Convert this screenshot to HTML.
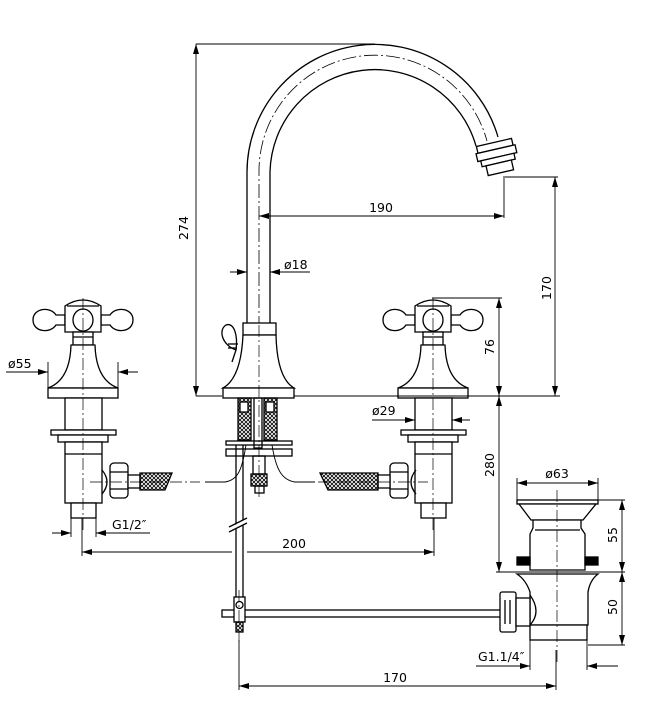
<!DOCTYPE html>
<html><head><meta charset="utf-8"><style>
html,body{margin:0;padding:0;background:#fff}
svg{display:block}
text{font-family:"DejaVu Sans","Liberation Sans",sans-serif;font-size:12.5px;fill:#000}
</style></head><body>
<svg width="660" height="714" viewBox="0 0 660 714" xmlns="http://www.w3.org/2000/svg">
<defs>
<marker id="a" viewBox="0 0 10 6" refX="10" refY="3" markerWidth="10" markerHeight="6" orient="auto-start-reverse" markerUnits="userSpaceOnUse"><path d="M0,0 L10,3 L0,6 Z" fill="#000"/></marker>
<pattern id="h" width="4" height="4" patternUnits="userSpaceOnUse"><path d="M0,0L4,4M4,0L0,4" stroke="#000" stroke-width="0.8"/></pattern>
<g id="valve" fill="#fff" stroke="#000" stroke-width="1.3">
  <path d="M56,315 C50,306 33,308 33,320 C33,332 50,334 56,325 L65,325 L65,315 Z"/>
  <path d="M110,315 C116,306 133,308 133,320 C133,332 116,334 110,325 L101,325 L101,315 Z"/>
  <path d="M65,332 L65,306 Q83,294 101,306 L101,332 Z"/>
  <line x1="67" y1="306" x2="99" y2="306"/>
  <ellipse cx="83" cy="320" rx="10" ry="11"/>
  <rect x="73" y="332" width="20" height="13"/>
  <line x1="73" y1="337" x2="93" y2="337"/>
  <path d="M71,345 L95,345 Q96,380 118,388 L48,388 Q70,380 71,345 Z"/>
  <rect x="48" y="388" width="70" height="10"/>
  <rect x="65" y="398" width="37" height="32"/>
  <rect x="51" y="430" width="65" height="5"/>
  <rect x="58" y="435" width="50" height="7"/>
  <rect x="65" y="442" width="37" height="61"/>
  <line x1="65" y1="454" x2="102" y2="454"/>
  <rect x="71" y="503" width="25" height="15"/>
</g>
</defs>
<g fill="none" stroke="#000" stroke-width="1.3">
<path d="M247,325 L247,172 A128,128 0 0 1 498,137" fill="none"/>
<path d="M270,325 L270,172 A105,105 0 0 1 476,146" fill="none"/>
<path d="M259,330 L259,172 A116,116 0 0 1 487,141" stroke-width="0.8" stroke-dasharray="14,3,2,3"/>
<g transform="rotate(-13 498 160)">
<rect x="480" y="142" width="36" height="7" fill="#fff"/>
<rect x="478" y="149" width="40" height="8" fill="#fff"/>
<rect x="481" y="157" width="34" height="6" fill="#fff"/>
<rect x="485" y="163" width="26" height="10" fill="#fff"/>
</g>
<rect x="243" y="323" width="33" height="12" fill="#fff"/>
<path d="M243,335 L276,335 Q277,378 294,388 L223,388 Q241,378 243,335 Z" fill="#fff"/>
<rect x="223" y="388" width="71" height="10" fill="#fff"/>
<path d="M236,350 C222,345 218,330 226,325 C234,322 238,335 236,350 L232,362 Z" fill="#fff"/>
<line x1="228" y1="344" x2="238" y2="344"/><line x1="228" y1="348" x2="237" y2="348"/>
<rect x="238" y="398" width="13" height="42" fill="url(#h)"/>
<rect x="264" y="398" width="13" height="42" fill="url(#h)"/>
<rect x="240" y="402" width="8" height="10" fill="#fff"/><rect x="266" y="402" width="8" height="10" fill="#fff"/>
<rect x="254" y="398" width="8" height="50"/>
<rect x="226" y="441" width="66" height="4"/>
<rect x="226" y="449" width="66" height="7"/>
<rect x="253" y="456" width="12" height="18"/>
<rect x="251" y="474" width="16" height="12" fill="url(#h)"/>
<rect x="255" y="486" width="9" height="7"/>
<path d="M246,445 C242,470 238,480 225,482 L205,482" stroke-width="0.9"/>
<path d="M272,445 C276,470 282,480 295,482 L315,482" stroke-width="0.9"/>
<line x1="236" y1="445" x2="236" y2="600"/><line x1="243" y1="445" x2="243" y2="600"/>
<line x1="231" y1="530" x2="247" y2="520" stroke="#fff" stroke-width="4"/>
<line x1="229" y1="527" x2="247" y2="518"/><line x1="229" y1="532" x2="247" y2="523"/>
<rect x="222" y="610" width="280" height="7" fill="#fff"/>
<rect x="234" y="597" width="11" height="25" fill="#fff"/>
<circle cx="239.5" cy="605" r="3.5"/>
<rect x="236" y="622" width="7" height="10" fill="url(#h)"/>
</g>
<use href="#valve"/>
<use href="#valve" transform="translate(350,0)"/>
<g fill="none" stroke="#000" stroke-width="1.3">
<path d="M102,470 Q112,482 102,494"/>
<rect x="110" y="463" width="18" height="35" rx="4" fill="#fff"/>
<line x1="110" y1="472" x2="128" y2="472"/><line x1="110" y1="489" x2="128" y2="489"/>
<rect x="128" y="475" width="12" height="13" fill="#fff"/>
<path d="M140,473 L172,473 L165,490 L140,490 Z" fill="url(#h)"/>
<path d="M416,470 Q406,482 416,494"/>
<rect x="390" y="463" width="18" height="35" rx="4" fill="#fff"/>
<line x1="390" y1="472" x2="408" y2="472"/><line x1="390" y1="489" x2="408" y2="489"/>
<rect x="378" y="475" width="12" height="13" fill="#fff"/>
<path d="M320,473 L378,473 L378,490 L328,490 Z" fill="url(#h)"/>
<rect x="517" y="500" width="81" height="4" fill="#fff"/>
<path d="M519,504 L596,504 L583,520 L531,520 Z" fill="#fff"/>
<path d="M533,520 L581,520 L581,528 L585,534 L585,570 L530,570 L530,534 L533,528 Z" fill="#fff"/>
<line x1="535" y1="530" x2="580" y2="530"/>
<rect x="517" y="557" width="13" height="8" fill="#000"/><rect x="585" y="557" width="13" height="8" fill="#000"/>
<path d="M517,574 L598,574 Q590,580 588,592 L588,625 L530,625 L530,592 Q526,580 517,574 Z" fill="#fff"/>
<path d="M530,595 Q542,612 530,625"/>
<rect x="530" y="625" width="57" height="15" fill="#fff"/>
<rect x="500" y="592" width="16" height="40" rx="2" fill="#fff"/>
<rect x="516" y="598" width="14" height="28" fill="#fff"/>
<line x1="505" y1="600" x2="505" y2="624"/><line x1="510" y1="600" x2="510" y2="624"/>
</g>
<g stroke="#000" stroke-width="0.7" stroke-dasharray="12,3,2,3" fill="none">
<line x1="83" y1="298" x2="83" y2="530"/>
<line x1="433" y1="298" x2="433" y2="530"/>
<line x1="259" y1="325" x2="259" y2="500"/>
<line x1="557" y1="490" x2="557" y2="665"/>
<line x1="90" y1="482" x2="200" y2="482"/>
<line x1="318" y1="482" x2="428" y2="482"/>
<line x1="239" y1="590" x2="239" y2="645"/>
</g>
<g stroke="#000" stroke-width="0.9" fill="none">
<line x1="196" y1="44" x2="375" y2="44"/>
<line x1="196" y1="396" x2="222" y2="396"/>
<line x1="196" y1="44" x2="196" y2="396" marker-start="url(#a)" marker-end="url(#a)"/>
<line x1="259" y1="216" x2="504" y2="216" marker-start="url(#a)" marker-end="url(#a)"/>
<line x1="504" y1="176" x2="504" y2="218"/>
<line x1="230" y1="272" x2="247" y2="272" marker-end="url(#a)"/>
<line x1="310" y1="272" x2="270" y2="272" marker-end="url(#a)"/>
<line x1="505" y1="177" x2="558" y2="177"/>
<line x1="294" y1="396" x2="560" y2="396"/>
<line x1="555" y1="177" x2="555" y2="396" marker-start="url(#a)" marker-end="url(#a)"/>
<line x1="432" y1="298" x2="502" y2="298"/>
<line x1="499" y1="298" x2="499" y2="396" marker-start="url(#a)" marker-end="url(#a)"/>
<line x1="499" y1="396" x2="499" y2="572" marker-start="url(#a)" marker-end="url(#a)"/>
<line x1="496" y1="572" x2="625" y2="572"/>
<line x1="598" y1="500" x2="625" y2="500"/>
<line x1="622" y1="500" x2="622" y2="572" marker-start="url(#a)" marker-end="url(#a)"/>
<line x1="588" y1="645" x2="625" y2="645"/>
<line x1="622" y1="572" x2="622" y2="645" marker-start="url(#a)" marker-end="url(#a)"/>
<line x1="517" y1="483" x2="598" y2="483" marker-start="url(#a)" marker-end="url(#a)"/>
<line x1="517" y1="478" x2="517" y2="500"/><line x1="598" y1="478" x2="598" y2="500"/>
<line x1="476" y1="666" x2="530" y2="666" marker-end="url(#a)"/>
<line x1="618" y1="666" x2="587" y2="666" marker-end="url(#a)"/>
<line x1="530" y1="640" x2="530" y2="670"/><line x1="587" y1="640" x2="587" y2="670"/>
<line x1="239" y1="640" x2="239" y2="690"/><line x1="556" y1="650" x2="556" y2="690"/>
<line x1="239" y1="686" x2="556" y2="686" marker-start="url(#a)" marker-end="url(#a)"/>
<line x1="82" y1="518" x2="82" y2="556"/><line x1="434" y1="518" x2="434" y2="556"/>
<line x1="82" y1="552" x2="232" y2="552" marker-start="url(#a)"/>
<line x1="247" y1="552" x2="434" y2="552" marker-end="url(#a)"/>
<line x1="52" y1="533" x2="71" y2="533" marker-end="url(#a)"/>
<line x1="150" y1="533" x2="96" y2="533" marker-end="url(#a)"/>
<line x1="71" y1="518" x2="71" y2="537"/><line x1="96" y1="518" x2="96" y2="537"/>
<line x1="6" y1="372" x2="48" y2="372" marker-end="url(#a)"/>
<line x1="138" y1="372" x2="118" y2="372" marker-end="url(#a)"/>
<line x1="48" y1="362" x2="48" y2="388"/><line x1="118" y1="362" x2="118" y2="388"/>
<line x1="372" y1="420" x2="415" y2="420" marker-end="url(#a)"/>
<line x1="470" y1="420" x2="452" y2="420" marker-end="url(#a)"/>
</g>
<text x="188" y="228" transform="rotate(-90 188 228)" text-anchor="middle">274</text>
<text x="381" y="212" text-anchor="middle">190</text>
<text x="284" y="269">ø18</text>
<text x="551" y="288" transform="rotate(-90 551 288)" text-anchor="middle">170</text>
<text x="494" y="347" transform="rotate(-90 494 347)" text-anchor="middle">76</text>
<text x="494" y="465" transform="rotate(-90 494 465)" text-anchor="middle">280</text>
<text x="617" y="535" transform="rotate(-90 617 535)" text-anchor="middle">55</text>
<text x="617" y="607" transform="rotate(-90 617 607)" text-anchor="middle">50</text>
<text x="557" y="478" text-anchor="middle">ø63</text>
<text x="478" y="661">G1.1/4″</text>
<text x="395" y="682" text-anchor="middle">170</text>
<text x="294" y="548" text-anchor="middle">200</text>
<text x="112" y="529">G1/2″</text>
<text x="8" y="368">ø55</text>
<text x="372" y="415">ø29</text>
</svg>
</body></html>
